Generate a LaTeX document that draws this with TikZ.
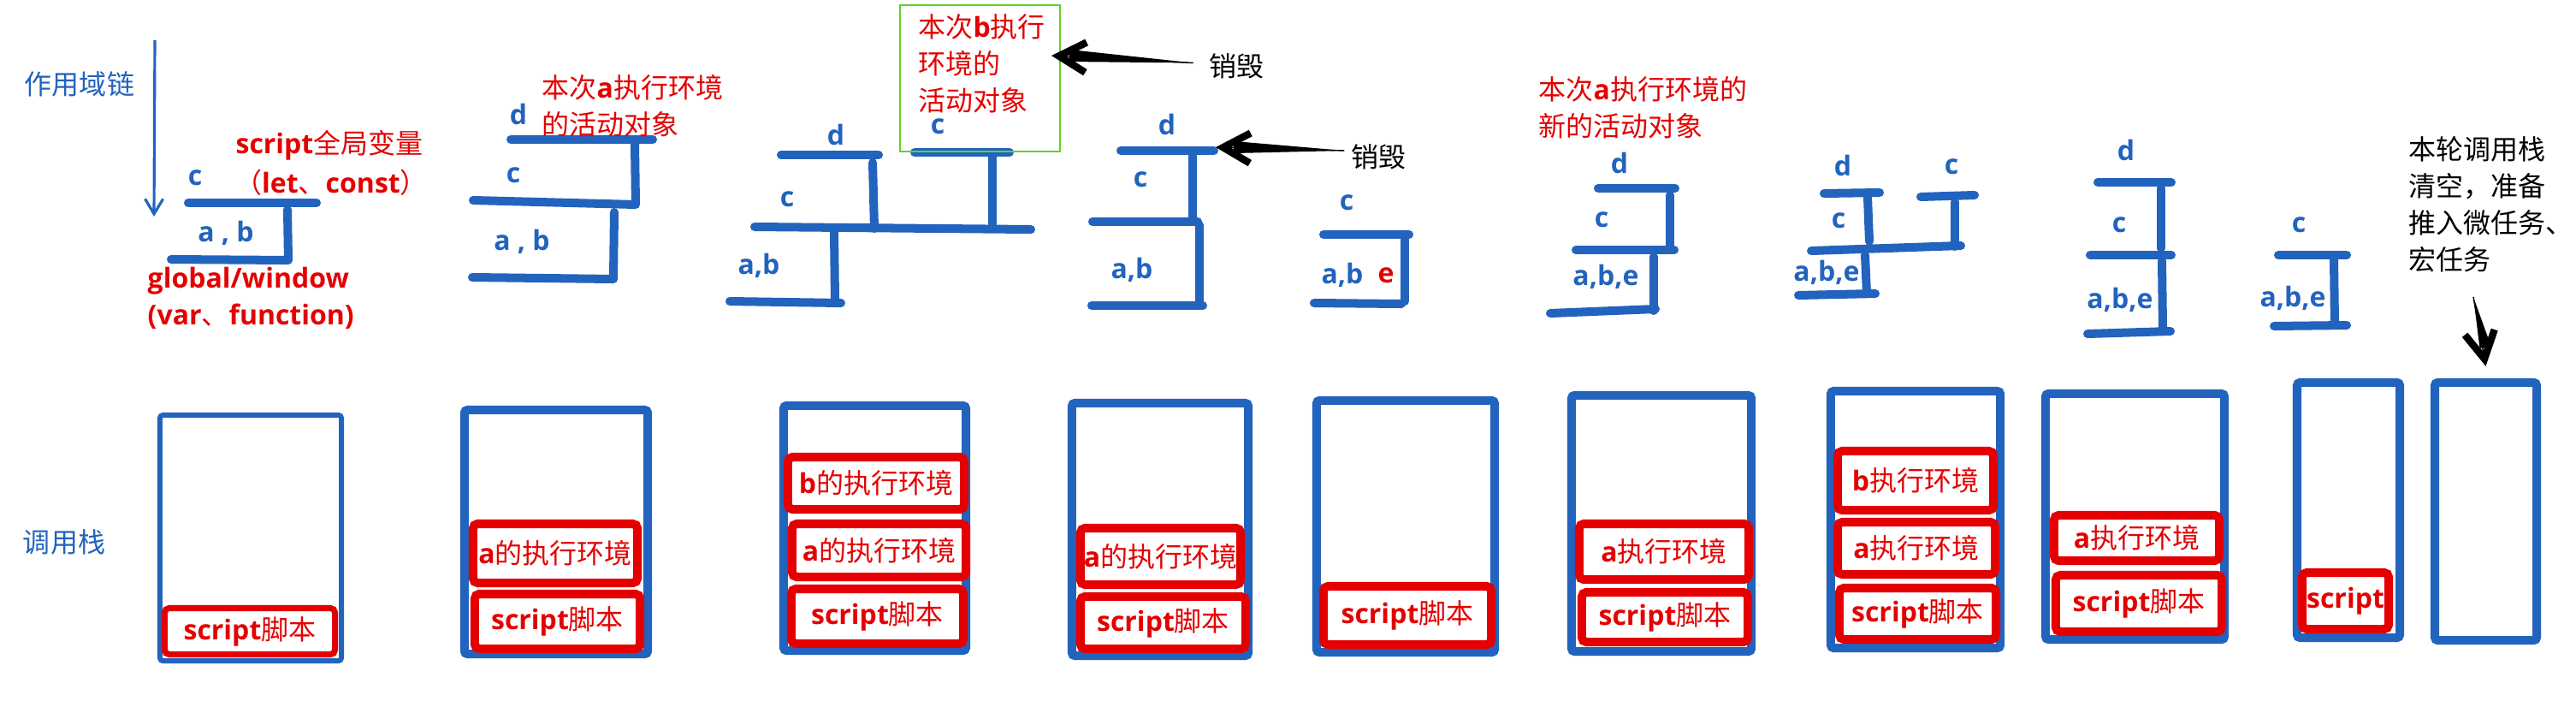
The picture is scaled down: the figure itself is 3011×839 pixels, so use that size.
\documentclass[tikz,border=0pt]{standalone}
\usepackage{fontspec}
\setmainfont{Open Sans}
\newfontfamily\zhfont{Noto Sans CJK SC}
\newcommand{\zh}[1]{{\zhfont\mdseries #1}}
\newcommand{\figfont}{\fontsize{9.1pt}{12.2pt}\selectfont}
\usetikzlibrary{positioning}
\usetikzlibrary{arrows.meta}
\definecolor{scblue}{RGB}{34,99,190}
\definecolor{scred}{RGB}{228,0,0}
\definecolor{actgreen}{RGB}{96,210,40}
\tikzset{
    blab/.style = {inner sep=0pt, text=scblue, font=\figfont\bfseries},
    blabn/.style = {inner sep=0pt, text=scblue, font=\figfont},
    rlab/.style = {inner sep=0pt, align=left, text=scred, font=\figfont\bfseries},
    klab/.style = {inner sep=0pt, align=left, text=black, font=\figfont},
    scbar/.style = {line width=2.85pt, draw=scblue, line cap=round, line join=round},
    stackb/.style = {draw=scblue, line width=2.85pt, inner sep=0pt, rounded corners=1pt},
    ecbox/.style = {draw=scred, fill=white, line width=2.85pt, inner sep=0pt, rounded corners=1.5pt, text=scred, font=\figfont\bfseries},
    actbox/.style = {draw=actgreen, line width=0.7pt, inner sep=0pt},
    scopearrow/.style = {draw=scblue, line width=0.9pt, -{Straight Barb[length=5pt,width=6pt]}},
    killarrow/.style = {draw=black, line width=0.4pt, -{Straight Barb[length=9pt,width=10pt,line width=2.4pt]}}
}
\begin{document}
\begin{tikzpicture}[x=0.01cm,y=-0.01cm]
% side titles
\node[blabn] at (93,98) (scope) {\zh{作用域链}};
\node[blabn] at (75,633) (callstk) {\zh{调用栈}};
\coordinate (sctop) at (181,47);
\coordinate (scbot) at (180,253);
\draw[scopearrow] (sctop) -- (scbot);
%
% scope chain 1
\draw[scbar] (220,237) -- (370,237);
\draw[scbar] (336,245) -- (337,304) -- (200,303);
\node[blab] at (228,208) (c1) {c};
\node[blab] at (264,272) (ab1) {a , b};
\node[rlab] at (385,170) (gvar) {script\zh{全局变量}};
\node[rlab] at (387,213) (gvarb) {\zh{（}let\zh{、}const\zh{）}};
\node[rlab, anchor=west] at (172,328) (glob) {global/window};
\node[rlab, anchor=west] at (172,370) (globb) {(var\zh{、}function)};
%
% scope chain 2
\draw[scbar] (597,163) -- (763,163);
\draw[scbar] (742,168) -- (743,239) -- (553,234);
\draw[scbar] (718,248) -- (717,326) -- (552,324);
\node[blab] at (606,133) (d2) {d};
\node[blab] at (600,205) (c2) {c};
\node[blab] at (610,282) (ab2) {a , b};
\node[rlab, anchor=west] at (633,123.5) (acta) {\zh{本次}a\zh{执行环境}\\\zh{的活动对象}};
%
% scope chain 3
\draw[scbar] (913,181) -- (1027,181);
\draw[scbar] (1069,178) -- (1180,178);
\draw[scbar] (1020,190) -- (1022,267);
\draw[scbar] (1160,183) -- (1160,262);
\draw[scbar] (882,265) -- (1205,268);
\draw[scbar] (975,270) -- (976,352);
\draw[scbar] (853,352) -- (983,354);
\node[blab] at (977,157) (d3) {d};
\node[blab] at (920,233) (c3) {c};
\node[blab] at (1096,148) (c3b) {c};
\node[blab] at (887,310) (ab3) {a,b};
\node[actbox, minimum width=1.87cm, minimum height=1.71cm] at (1145.5,91.5) (bact) {};
\node[rlab, anchor=west] at (1073,74.5) (actb) {\zh{本次}b\zh{执行}\\\zh{环境的}\\\zh{活动对象}};
\node[klab] at (1445,77) (kill1) {\zh{销毁}};
\coordinate (k1tip) at (1229,65);
\coordinate (k1tail) at ([xshift=-5pt,yshift=1pt]kill1.west);
\fill (k1tail) -- ([xshift=6pt,yshift=2pt]k1tip) -- ([xshift=6pt,yshift=-2pt]k1tip) -- cycle;
\draw[killarrow] (k1tail) -- (k1tip);
%
% scope chain 4
\draw[scbar] (1310,176) -- (1419,176);
\draw[scbar] (1394,182) -- (1394,258);
\draw[scbar] (1277,259) -- (1400,259);
\draw[scbar] (1402,263) -- (1402,352);
\draw[scbar] (1276,357) -- (1406,357);
\node[blab] at (1364,145) (d4) {d};
\node[blab] at (1333,210) (c4) {c};
\node[blab] at (1323,315) (ab4) {a,b};
\node[klab] at (1611,183) (kill2) {\zh{销毁}};
\coordinate (k2tip) at (1421,172);
\coordinate (k2tail) at ([xshift=-2pt,yshift=2pt]kill2.west);
\fill (k2tail) -- ([xshift=6pt,yshift=2pt]k2tip) -- ([xshift=6pt,yshift=-2pt]k2tip) -- cycle;
\draw[killarrow] (k2tail) -- (k2tip);
%
% scope chain 5
\draw[scbar] (1547,274) -- (1647,274);
\draw[scbar] (1642,280) -- (1642,352);
\draw[scbar] (1536,354) -- (1638,355);
\node[blab] at (1574,237) (c5) {c};
\node[blab] at (1569,321) (ab5) {a,b};
\node[blab, text=scred] at (1620,322) (e5) {e};
%
% scope chain 6
\draw[scbar] (1868,220) -- (1958,220);
\draw[scbar] (1952,228) -- (1952,290);
\draw[scbar] (1842,292) -- (1957,292);
\draw[scbar] (1933,300) -- (1933,363);
\draw[scbar] (1812,366) -- (1935,361);
\node[blab] at (1893,190) (d6) {d};
\node[blab] at (1872,257) (c6) {c};
\node[blab] at (1877,323) (abe6) {a,b,e};
\node[rlab, anchor=west] at (1798,126) (actn) {\zh{本次}a\zh{执行环境的}\\\zh{新的活动对象}};
%
% scope chain 7
\draw[scbar] (2132,226) -- (2197,225);
\draw[scbar] (2183,230) -- (2185,282);
\draw[scbar] (2245,230) -- (2308,228);
\draw[scbar] (2285,236) -- (2285,288);
\draw[scbar] (2117,293) -- (2292,287);
\draw[scbar] (2180,298) -- (2182,343);
\draw[scbar] (2102,345) -- (2192,343);
\node[blab] at (2154,193) (d7) {d};
\node[blab] at (2281,195) (c7b) {c};
\node[blab] at (2149,258) (c7) {c};
\node[blab] at (2135,318) (abe7) {a,b,e};
%
% scope chain 8
\draw[scbar] (2452,213) -- (2538,213);
\draw[scbar] (2526,220) -- (2526,290);
\draw[scbar] (2443,298) -- (2538,298);
\draw[scbar] (2527,305) -- (2528,383);
\draw[scbar] (2440,390) -- (2537,387);
\node[blab] at (2485,175) (d8) {d};
\node[blab] at (2477,263) (c8) {c};
\node[blab] at (2478,350) (abe8) {a,b,e};
%
% scope chain 9
\draw[scbar] (2663,298) -- (2743,298);
\draw[scbar] (2728,303) -- (2729,378);
\draw[scbar] (2658,381) -- (2743,380);
\node[blab] at (2687,263) (c9) {c};
\node[blab] at (2680,348) (abe9) {a,b,e};
\node[klab, anchor=west] at (2815,238.5) (clear) {\zh{本轮调用栈}\\\zh{清空，准备}\\\zh{推入微任务、}\\\zh{宏任务}};
%
% call stacks
\node[stackb, line width=1.7pt, minimum width=2.12cm, minimum height=2.87cm] at (293,628.5) (st1) {};
\node[stackb, minimum width=2.14cm, minimum height=2.85cm] at (650,621.5) (st2) {};
\node[stackb, minimum width=2.13cm, minimum height=2.86cm] at (1022.5,617) (st3) {};
\node[stackb, minimum width=2.06cm, minimum height=2.95cm] at (1356,618.5) (st4) {};
\node[stackb, minimum width=2.08cm, minimum height=2.94cm] at (1643,615) (st5) {};
\node[stackb, minimum width=2.10cm, minimum height=2.99cm] at (1942,611.5) (st6) {};
\node[stackb, minimum width=1.98cm, minimum height=3.00cm] at (2239,607) (st7) {};
\node[stackb, minimum width=2.09cm, minimum height=2.87cm] at (2495.5,603.5) (st8) {};
\node[stackb, minimum width=1.20cm, minimum height=2.98cm] at (2745,596) (st9) {};
\node[stackb, minimum width=1.19cm, minimum height=3.01cm] at (2905.5,597.5) (st10) {};
%
\node[ecbox, line width=2pt, minimum width=1.99cm, minimum height=0.54cm] at (292,737.5) (e1s) {script\zh{脚本}};
\node[ecbox, minimum width=1.92cm, minimum height=0.69cm] at (649,646.5) (e2a) {a\zh{的执行环境}};
\node[ecbox, minimum width=1.93cm, minimum height=0.64cm] at (651.5,726) (e2s) {script\zh{脚本}};
\node[ecbox, minimum width=2.06cm, minimum height=0.61cm] at (1024,564.5) (e3b) {b\zh{的执行环境}};
\node[ecbox, minimum width=2.03cm, minimum height=0.62cm] at (1027.5,643) (e3a) {a\zh{的执行环境}};
\node[ecbox, minimum width=2.01cm, minimum height=0.64cm] at (1025.5,720) (e3s) {script\zh{脚本}};
\node[ecbox, minimum width=1.87cm, minimum height=0.66cm] at (1356.5,650) (e4a) {a\zh{的执行环境}};
\node[ecbox, minimum width=1.93cm, minimum height=0.61cm] at (1359.5,727.5) (e4s) {script\zh{脚本}};
\node[ecbox, minimum width=1.96cm, minimum height=0.68cm] at (1645,719) (e5s) {script\zh{脚本}};
\node[ecbox, minimum width=1.98cm, minimum height=0.65cm] at (1945,644.5) (e6a) {a\zh{执行环境}};
\node[ecbox, minimum width=1.94cm, minimum height=0.58cm] at (1946,721) (e6s) {script\zh{脚本}};
\node[ecbox, minimum width=1.82cm, minimum height=0.69cm] at (2239,561.5) (e7b) {b\zh{执行环境}};
\node[ecbox, minimum width=1.84cm, minimum height=0.61cm] at (2240,640.5) (e7a) {a\zh{执行环境}};
\node[ecbox, minimum width=1.83cm, minimum height=0.60cm] at (2241.5,717) (e7s) {script\zh{脚本}};
\node[ecbox, minimum width=1.93cm, minimum height=0.53cm] at (2497.5,628.5) (e8a) {a\zh{执行环境}};
\node[ecbox, minimum width=1.94cm, minimum height=0.66cm] at (2500,705) (e8s) {script\zh{脚本}};
\node[ecbox, minimum width=1.01cm, minimum height=0.66cm] at (2741.5,702) (e9s) {script};
%
% stack cleared
\coordinate (dtail) at (2891,347);
\coordinate (dtip) at ([yshift=4pt]st10.north);
\fill (dtail) -- ([xshift=2pt,yshift=6pt]dtip) -- ([xshift=-2pt,yshift=6pt]dtip) -- cycle;
\draw[killarrow] (dtail) -- (dtip);

\path[use as bounding box] (0,0) rectangle (3011,839);
\end{tikzpicture}
\end{document}
